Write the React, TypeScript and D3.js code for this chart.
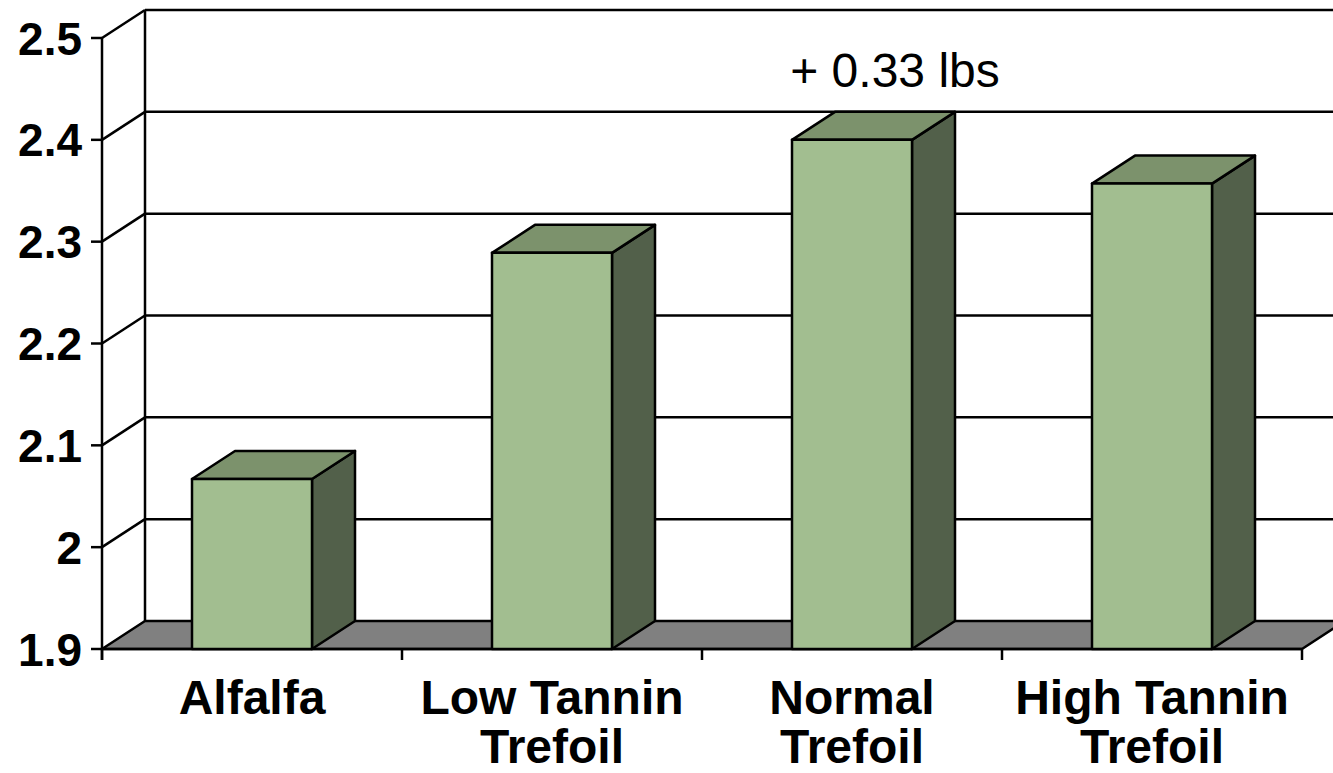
import React from "react";
import * as d3 from "d3";

const categories: string[][] = [["Alfalfa"], ["Low Tannin", "Trefoil"], ["Normal", "Trefoil"], ["High Tannin", "Trefoil"]];
const values: number[] = [2.067, 2.289, 2.4, 2.357];
const yTicks: number[] = [1.9, 2.0, 2.1, 2.2, 2.3, 2.4, 2.5];
const yTickLabels: string[] = ["1.9", "2", "2.1", "2.2", "2.3", "2.4", "2.5"];
const annotation = "+ 0.33 lbs";

const W = 1333;
const H = 773;
const DX = 43;
const DY = -28;
const FRONT = "#A2BE90";
const TOP = "#7C926C";
const SIDE = "#52604A";
const FLOOR = "#808080";
const FONT = "Liberation Sans, Arial, Helvetica, sans-serif";

export default function App() {
  const y = d3.scaleLinear().domain([1.9, 2.5]).range([649, 38]);
  const x = d3.scaleBand<number>().domain(d3.range(categories.length)).range([102, 1302]).paddingInner(0).paddingOuter(0);
  const bw = x.bandwidth() * 0.4;
  const y0 = y(1.9);
  const sw = 2.5;
  const pts = (p: [number, number][]) => p.map((q) => q.join(",")).join(" ");

  return (
    <svg width={W} height={H} style={{ position: "absolute", left: 0, top: 0, background: "#fff" }}>
      {yTicks.slice(1).map((t, i) => (
        <line key={"g" + i} x1={102 + DX} x2={W + 20} y1={y(t) + DY} y2={y(t) + DY} stroke="#000" strokeWidth={sw} />
      ))}
      <line x1={102 + DX} x2={102 + DX} y1={y(2.5) + DY} y2={y0 + DY} stroke="#000" strokeWidth={sw} />
      {yTicks.slice(1).map((t, i) => (
        <line key={"d" + i} x1={102} y1={y(t)} x2={102 + DX} y2={y(t) + DY} stroke="#000" strokeWidth={sw} />
      ))}
      <polygon
        points={pts([[102, y0], [1302, y0], [1302 + DX, y0 + DY], [102 + DX, y0 + DY]])}
        fill={FLOOR}
        stroke="#000"
        strokeWidth={sw}
        strokeLinejoin="round"
      />
      <line x1={102} x2={102} y1={y(2.5)} y2={660} stroke="#000" strokeWidth={sw} />
      {yTicks.map((t, i) => (
        <line key={"t" + i} x1={91} x2={102} y1={y(t)} y2={y(t)} stroke="#000" strokeWidth={sw} />
      ))}
      {yTicks.map((t, i) => (
        <text key={"l" + i} x={82} y={y(t) + 16.5} textAnchor="end" fontFamily={FONT} fontWeight="bold" fontSize={46} fill="#000">
          {yTickLabels[i]}
        </text>
      ))}
      <line x1={102} x2={1302} y1={y0} y2={y0} stroke="#000" strokeWidth={sw} />
      {d3.range(categories.length + 1).map((i) => {
        const xx = 102 + i * x.bandwidth();
        return <line key={"c" + i} x1={xx} x2={xx} y1={y0} y2={660} stroke="#000" strokeWidth={sw} />;
      })}
      {values.map((v, i) => {
        const cx = (x(i) as number) + x.bandwidth() / 2;
        const x0 = cx - bw / 2;
        const x1 = cx + bw / 2;
        const yt = y(v);
        return (
          <g key={"b" + i} stroke="#000" strokeWidth={sw} strokeLinejoin="round">
            <polygon points={pts([[x1, yt], [x1 + DX, yt + DY], [x1 + DX, y0 + DY], [x1, y0]])} fill={SIDE} />
            <polygon points={pts([[x0, yt], [x1, yt], [x1 + DX, yt + DY], [x0 + DX, yt + DY]])} fill={TOP} />
            <rect x={x0} y={yt} width={bw} height={y0 - yt} fill={FRONT} />
          </g>
        );
      })}
      {categories.map((lines, i) => {
        const cx = (x(i) as number) + x.bandwidth() / 2;
        return (
          <text key={"cl" + i} textAnchor="middle" fontFamily={FONT} fontWeight="bold" fontSize={48} fill="#000">
            {lines.map((ln, j) => (
              <tspan key={j} x={cx} y={714 + j * 49}>
                {ln}
              </tspan>
            ))}
          </text>
        );
      })}
      <text x={895} y={87} textAnchor="middle" fontFamily={FONT} fontSize={48} fill="#000">
        {annotation}
      </text>
    </svg>
  );
}
